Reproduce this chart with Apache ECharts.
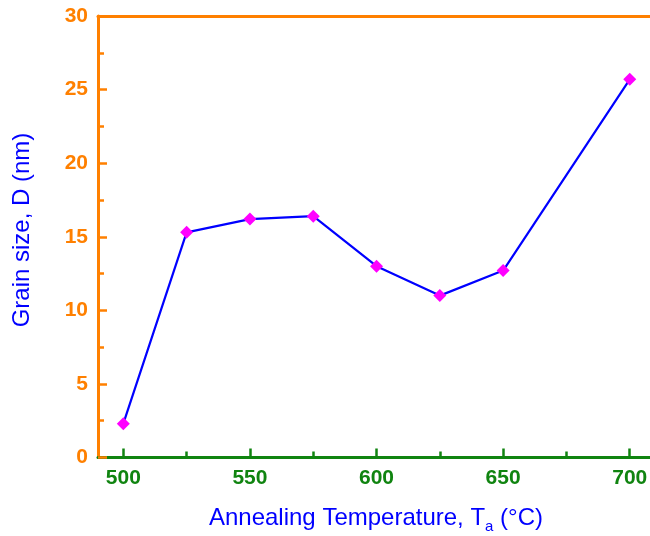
<!DOCTYPE html>
<html>
<head>
<meta charset="utf-8">
<script src="https://cdn.jsdelivr.net/npm/echarts@6/dist/echarts.min.js"></script>
<style>
  html, body { margin: 0; padding: 0; background: #fff; }
  #chart { width: 650px; height: 536px; }
</style>
</head>
<body>
<div id="chart"></div>
<script>
// Annealing temperature (°C) and measured grain size D (nm)
const temperatures = [500, 525, 550, 575, 600, 625, 650, 700];
const grainSize = [2.3, 15.3, 16.2, 16.4, 13.0, 11.0, 12.7, 25.7];

// Tick positions on the temperature axis
const majorTempTicks = [500, 550, 600, 650, 700];
const minorTempTicks = [525, 575, 625, 675];

const FONT = '"Liberation Sans", Arial, sans-serif';
const ORANGE = '#ff8000';
const GREEN = '#108410';
const BLUE = '#0000ff';

const points = temperatures.map((t, i) => [t, grainSize[i]]);

const chart = echarts.init(document.getElementById('chart'), null, { renderer: 'canvas' });

chart.setOption({
  animation: false,
  backgroundColor: '#ffffff',
  grid: {
    left: 98, top: 16, right: 0, bottom: 78.5,
    containLabel: false,
    outerBoundsMode: 'none'
  },
  xAxis: [
    {
      type: 'value', position: 'bottom', min: 490, max: 708,
      axisLine: { show: true, onZero: false, lineStyle: { color: GREEN, width: 3 } },
      axisTick: { show: true, inside: true, length: 9, customValues: majorTempTicks,
                  lineStyle: { color: GREEN, width: 2.5 } },
      axisLabel: { show: true, customValues: majorTempTicks, margin: 10,
                   color: GREEN, fontFamily: FONT, fontWeight: 'bold', fontSize: 21 },
      splitLine: { show: false }
    },
    {
      type: 'value', position: 'bottom', min: 490, max: 708,
      axisLine: { show: false },
      axisTick: { show: true, inside: true, length: 6, customValues: minorTempTicks,
                  lineStyle: { color: GREEN, width: 2.5 } },
      axisLabel: { show: false },
      splitLine: { show: false }
    },
    {
      type: 'value', position: 'top', min: 490, max: 708,
      axisLine: { show: true, onZero: false, lineStyle: { color: ORANGE, width: 3 } },
      axisTick: { show: false },
      axisLabel: { show: false },
      splitLine: { show: false }
    }
  ],
  yAxis: {
    type: 'value', min: 0, max: 30, interval: 5,
    axisLine: { show: true, onZero: false, lineStyle: { color: ORANGE, width: 3 } },
    axisTick: { show: true, inside: true, length: 9, lineStyle: { color: ORANGE, width: 2.5 } },
    minorTick: { show: true, splitNumber: 2, length: 6, lineStyle: { color: ORANGE, width: 2.5 } },
    axisLabel: { color: ORANGE, fontFamily: FONT, fontWeight: 'bold', fontSize: 21, margin: 10 },
    splitLine: { show: false }
  },
  graphic: [
    {
      type: 'text',
      x: 22, y: 230,
      rotation: Math.PI / 2,
      style: {
        text: 'Grain size, D (nm)',
        fill: BLUE, font: '24px ' + FONT,
        align: 'center', verticalAlign: 'middle'
      }
    },
    {
      type: 'text',
      x: 376, y: 518,
      style: {
        text: 'Annealing Temperature, T{s|a} (°C)',
        fill: BLUE, font: '24px ' + FONT,
        lineHeight: 32,
        align: 'center', verticalAlign: 'middle',
        rich: {
          s: { fill: BLUE, fontSize: 15, fontFamily: FONT, verticalAlign: 'bottom', lineHeight: 14 }
        }
      }
    }
  ],
  series: [
    {
      type: 'line',
      xAxisIndex: 0, yAxisIndex: 0,
      data: points,
      symbol: 'diamond',
      symbolSize: 13,
      itemStyle: { color: '#ff00ff' },
      lineStyle: { color: BLUE, width: 2.2 },
      z: 5
    }
  ]
});
</script>
</body>
</html>
